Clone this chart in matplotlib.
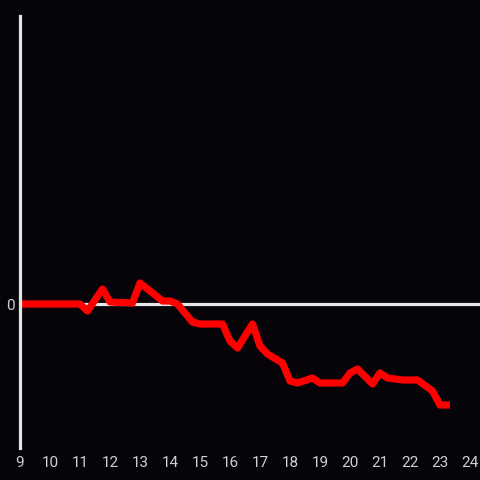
import matplotlib
matplotlib.use("Agg")
import matplotlib.pyplot as plt

# hours of the day and value (0 = baseline)
hours = [9.0, 11.0, 11.25, 11.75, 12.0, 12.75, 13.0, 13.75, 14.0, 14.25, 14.75,
         15.0, 15.75, 16.0, 16.25, 16.75, 17.0, 17.25, 17.75, 18.0, 18.25,
         18.75, 19.0, 19.75, 20.0, 20.25, 20.75, 21.0, 21.25, 21.75, 22.25,
         22.75, 23.0, 23.33]
values = [0, 0, -7, 15, 2, 1, 21, 3, 3, 0, -18,
          -20, -20, -37, -44, -20, -42, -50, -59, -77, -79,
          -74, -79, -79, -69, -65, -80, -69, -74, -76, -76,
          -87, -101, -101]
xticks = list(range(9, 25))

bg = "#060408"
fig = plt.figure(figsize=(4.8, 4.8), dpi=100, facecolor=bg)
ax = fig.add_axes([20 / 480, 32 / 480, 460 / 480, 432 / 480], facecolor=bg)

ax.axhline(0, color="#e6e6e6", lw=2.3, zorder=1)
ax.plot(hours, values, color="#ff0000", lw=5.2, solid_joinstyle="round",
        solid_capstyle="butt", zorder=2)

ax.set_xlim(9, 9 + 460 / 30)
ax.set_ylim(-144, 288)
ax.set_xticks(xticks)
ax.set_yticks([0])
ax.tick_params(length=0, colors="#d0d0d0", labelsize=11)
ax.tick_params(axis="x", pad=6)
ax.tick_params(axis="y", pad=4)
for lab in ax.get_xticklabels() + ax.get_yticklabels():
    lab.set_family("Roboto")
for s in ["top", "right", "bottom"]:
    ax.spines[s].set_visible(False)
ax.spines["left"].set_color("#e6e6e6")
ax.spines["left"].set_linewidth(2.3)

fig.savefig("out.png", dpi=100, facecolor=bg)
